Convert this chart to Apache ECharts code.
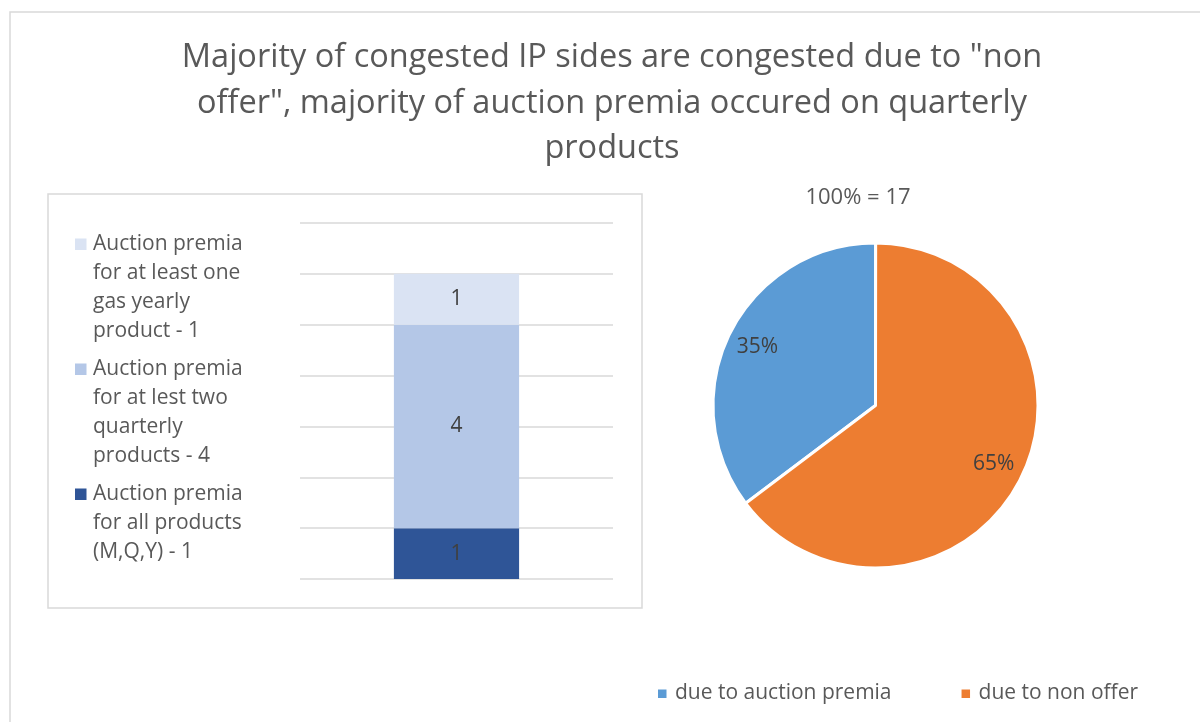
<!DOCTYPE html>
<html>
<head>
<meta charset="utf-8">
<script src="https://cdn.jsdelivr.net/npm/echarts@6/dist/echarts.min.js"></script>
<style>
  html, body { margin: 0; padding: 0; background: #ffffff; }
  #chart { width: 1200px; height: 722px; }
</style>
</head>
<body>
<div id="chart"></div>
<script>
// ---- data ----
const titleText = 'Majority of congested IP sides are congested due to "non\noffer", majority of auction premia occured on quarterly\nproducts';
const barCategories = ['Auction premia'];
const barSeriesNames = [
  'Auction premia\nfor all products\n(M,Q,Y) - 1',
  'Auction premia\nfor at lest two\nquarterly\nproducts - 4',
  'Auction premia\nfor at least one\ngas yearly\nproduct - 1'
];
const barValues = [1, 4, 1];
const barColors = ['#2F5597', '#B4C7E7', '#DAE3F3'];
const pieNames = ['due to auction premia', 'due to non offer'];
const pieValues = [6, 11];
const pieColors = ['#5B9BD5', '#ED7D31'];
const pieTotalText = '100% = 17';

const FONT = '"Open Sans", sans-serif';
const chart = echarts.init(document.getElementById('chart'), null, { renderer: 'canvas' });

const barSeries = barSeriesNames.map((name, i) => ({
  name: name,
  type: 'bar',
  stack: 'total',
  barWidth: '40%',
  xAxisIndex: 0,
  yAxisIndex: 0,
  itemStyle: { color: barColors[i] },
  label: { show: true, position: 'inside', color: '#404040', fontSize: 21, fontFamily: FONT },
  data: [barValues[i]]
}));

const pieData = pieNames.map((n, i) => ({ name: n, value: pieValues[i], itemStyle: { color: pieColors[i] } }));

const option = {
  backgroundColor: '#ffffff',
  animation: false,
  textStyle: { fontFamily: FONT },
  title: [
    {
      text: titleText,
      left: 612, top: 35, padding: 0,
      textAlign: 'center',
      textStyle: { fontFamily: FONT, fontSize: 32.5, fontWeight: 'normal', color: '#595959', lineHeight: 45.5 }
    },
    {
      text: pieTotalText,
      left: 858, top: 185, padding: 0,
      textAlign: 'center',
      textStyle: { fontFamily: FONT, fontSize: 22, fontWeight: 'normal', color: '#595959', lineHeight: 26 }
    }
  ],
  graphic: [
    { type: 'rect', x: 10, y: 12, silent: true, z: -10,
      shape: { x: 0, y: 0, width: 1300, height: 800 },
      style: { fill: 'none', stroke: '#D9D9D9', lineWidth: 1.5 } },
    { type: 'rect', x: 48, y: 194, silent: true, z: -10,
      shape: { x: 0, y: 0, width: 594, height: 414 },
      style: { fill: 'none', stroke: '#D9D9D9', lineWidth: 1.5 } }
  ],
  legend: [
    {
      orient: 'vertical',
      left: 75, top: 229.5, padding: 0,
      itemWidth: 13, itemHeight: 116, itemGap: 9,
      selectedMode: false,
      icon: 'path://M0,9L11.5,9L11.5,20.5L0,20.5Z M0,0L0.01,0 M13,116L12.99,116',
      data: barSeriesNames.slice().reverse(),
      formatter: function (name) { return name.split('\n').length < 4 ? name + '\n ' : name; },
      textStyle: { fontFamily: FONT, fontSize: 21, color: '#595959', lineHeight: 29 }
    },
    {
      orient: 'horizontal',
      left: 656, top: 683, padding: 0,
      itemWidth: 13, itemHeight: 11, itemGap: 68,
      selectedMode: false,
      icon: 'path://M0,0.5L10.5,0.5L10.5,11L0,11Z M0,0L0.01,0 M13,0L12.99,0',
      data: pieNames,
      textStyle: { fontFamily: FONT, fontSize: 21, color: '#595959' }
    }
  ],
  grid: { left: 300, right: 587, top: 223, bottom: 143, containLabel: false },
  xAxis: {
    type: 'category', data: barCategories,
    axisLine: { show: false }, axisTick: { show: false }, axisLabel: { show: false }
  },
  yAxis: {
    type: 'value', min: 0, max: 7, interval: 1,
    axisLine: { show: false }, axisTick: { show: false }, axisLabel: { show: false },
    splitLine: { show: true, lineStyle: { color: '#D9D9D9', width: 1.5 } }
  },
  series: barSeries.concat([
    {
      name: 'share', type: 'pie',
      center: [875.5, 405.5], radius: [0, 162.5],
      startAngle: 217, clockwise: true,
      itemStyle: { borderColor: '#ffffff', borderWidth: 3 },
      label: { show: false }, labelLine: { show: false },
      emphasis: { disabled: true },
      data: pieData
    },
    {
      name: 'shareLabels', type: 'pie', silent: true,
      center: [875.5, 405.5], radius: [97, 161],
      startAngle: 217, clockwise: true,
      itemStyle: { color: 'rgba(0,0,0,0)' },
      label: { show: true, position: 'inside', color: '#404040', fontSize: 21, fontFamily: FONT,
        formatter: function (p) { return Math.round(p.percent) + '%'; } },
      labelLine: { show: false },
      emphasis: { disabled: true },
      data: pieNames.map((n, i) => ({ name: n, value: pieValues[i] }))
    }
  ])
};
chart.setOption(option);
</script>
</body>
</html>
